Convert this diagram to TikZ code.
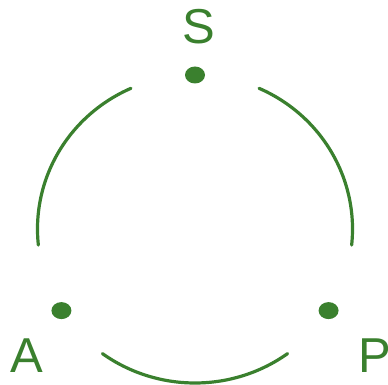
\documentclass[tikz,border=0pt]{standalone}
\usepackage{fontspec}
\setmainfont{Liberation Sans}
\usetikzlibrary{shapes.geometric}
\definecolor{leaf}{RGB}{58,128,46}

\begin{document}
\begin{tikzpicture}[x=1pt,y=1pt,
  ring/.style={leaf,line width=3.2pt,line cap=round},
  vdot/.style={ellipse,fill=leaf,inner sep=0pt,minimum width=20pt,minimum height=17pt},
  lbl/.style={text=leaf,inner sep=0pt,font=\fontsize{49}{49}\selectfont}]
\useasboundingbox (0,0) rectangle (388,385);
\coordinate (O) at (195,156);
\node[vdot] (S) at ([shift={(90:157.5 and 154)}]O) {};
\node[vdot] (A) at ([shift={(212:157.5 and 154)}]O) {};
\node[vdot] (P) at ([shift={(328:157.5 and 154)}]O) {};
\foreach \a in {114,234,354}
  \draw[ring] ([shift={(\a:157.5 and 154)}]O) arc[start angle=\a,delta angle=72,x radius=157.5,y radius=154];
\node[lbl,anchor=base] (labS) at (199,341) {S};
\node[lbl,anchor=base] (labA) at (26.5,12) {A};
\node[lbl,anchor=base west] (labP) at (358,12) {P};
\end{tikzpicture}
\end{document}
